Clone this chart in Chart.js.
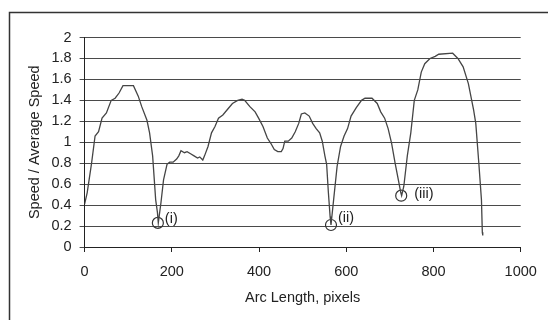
<!DOCTYPE html>
<html>
<head>
<meta charset="utf-8">
<script src="https://cdn.jsdelivr.net/npm/chart.js@4.4.1/dist/chart.umd.min.js"></script>
<style>
  html, body { margin: 0; padding: 0; background: #fff; }
  #wrap { position: relative; width: 548px; height: 320px; }
  canvas { display: block; }
</style>
</head>
<body>
<div id="wrap"><canvas id="c" width="548" height="320"></canvas></div>
<script>
// Arc length (pixels) and speed / average speed
const arcLength = [
  0, 6, 16, 24, 32, 40, 50, 61, 70, 79, 88, 112, 123, 131, 143, 149, 156, 163, 167, 169,
  175, 181, 189, 195, 203, 211, 216, 221, 229, 235, 243, 251, 259, 264, 271, 275, 283, 291, 299, 307,
  317, 327, 339, 351, 361, 367, 379, 391, 399, 409, 419, 427, 435, 443, 451, 455, 459, 467, 475, 483,
  491, 497, 505, 515, 523, 531, 539, 545, 551, 555, 559, 563, 565, 571, 579, 587, 595, 603, 611, 623,
  635, 643, 659, 671, 679, 688, 696, 704, 712, 720, 725, 727, 732, 740, 748, 756, 764, 772, 780, 792,
  804, 812, 844, 856, 868, 880, 892, 897, 904, 910, 912, 913
];
const speedRatio = [
  0.41, 0.52, 0.80, 1.06, 1.10, 1.23, 1.28, 1.40, 1.42, 1.47, 1.54, 1.54, 1.44, 1.34, 1.21, 1.09, 0.87, 0.45, 0.33, 0.23,
  0.42, 0.64, 0.79, 0.81, 0.81, 0.84, 0.87, 0.92, 0.90, 0.91, 0.89, 0.87, 0.85, 0.86, 0.83, 0.87, 0.96, 1.09, 1.15, 1.23,
  1.26, 1.31, 1.37, 1.40, 1.41, 1.40, 1.34, 1.29, 1.23, 1.15, 1.04, 0.99, 0.93, 0.91, 0.91, 0.94, 1.01, 1.01, 1.04, 1.10,
  1.18, 1.27, 1.28, 1.25, 1.18, 1.13, 1.09, 1.01, 0.87, 0.79, 0.52, 0.29, 0.21, 0.45, 0.77, 0.96, 1.06, 1.13, 1.25, 1.33,
  1.40, 1.42, 1.42, 1.37, 1.29, 1.23, 1.13, 0.99, 0.80, 0.63, 0.52, 0.49, 0.58, 0.87, 1.09, 1.40, 1.50, 1.67, 1.75, 1.80,
  1.82, 1.84, 1.85, 1.80, 1.72, 1.56, 1.31, 1.18, 0.80, 0.45, 0.14, 0.11
];
// Marked minima
const markerLabels = ['(i)', '(ii)', '(iii)'];
const markerArc = [168, 565, 726];
const markerSpeed = [0.23, 0.21, 0.49];

const xTicks = [0, 200, 400, 600, 800, 1000];
const yMin = 0, yMax = 2, yStep = 0.2;
const xTitle = 'Arc Length, pixels';
const yTitle = 'Speed / Average Speed';

const FONT = "'Liberation Sans', Arial, sans-serif";
const FS = 14.5;
const TEXT = '#222';

const curve = arcLength.map((x, i) => ({ x: x, y: speedRatio[i] }));
const markers = markerArc.map((x, i) => ({ x: x, y: markerSpeed[i] }));
const markerOffsets = [[7, -4], [7, -7], [13, -2]];

const framePlugin = {
  id: 'frame',
  beforeDraw(chart) {
    const ctx = chart.ctx;
    ctx.save();
    ctx.strokeStyle = '#333';
    ctx.lineWidth = 1.5;
    ctx.beginPath();
    ctx.moveTo(9.5, 320);
    ctx.lineTo(9.5, 12.5);
    ctx.lineTo(548, 12.5);
    ctx.stroke();
    ctx.restore();
  }
};

const labelPlugin = {
  id: 'markerLabels',
  afterDatasetsDraw(chart) {
    const meta = chart.getDatasetMeta(1);
    const ctx = chart.ctx;
    ctx.save();
    ctx.font = FS + 'px ' + FONT;
    ctx.fillStyle = TEXT;
    ctx.textAlign = 'left';
    ctx.textBaseline = 'middle';
    meta.data.forEach((pt, i) => {
      ctx.fillText(markerLabels[i], pt.x + markerOffsets[i][0], pt.y + markerOffsets[i][1]);
    });
    ctx.restore();
  }
};

new Chart(document.getElementById('c'), {
  type: 'scatter',
  data: {
    datasets: [
      {
        data: curve,
        showLine: true,
        borderColor: '#454545',
        borderWidth: 1.3,
        pointRadius: 0,
        tension: 0,
        fill: false
      },
      {
        data: markers,
        showLine: false,
        pointStyle: 'circle',
        pointRadius: 5.5,
        pointBorderWidth: 1.2,
        pointBorderColor: '#333',
        pointBackgroundColor: 'rgba(0,0,0,0)'
      }
    ]
  },
  options: {
    responsive: false,
    animation: false,
    devicePixelRatio: 1,
    layout: { padding: { left: 0, right: 27.3, top: 37.5, bottom: 0 } },
    plugins: { legend: { display: false }, tooltip: { enabled: false } },
    scales: {
      x: {
        type: 'linear',
        min: 0, max: 1000,
        afterBuildTicks(scale) { scale.ticks = xTicks.map(v => ({ value: v })); },
        afterFit(scale) { scale.height = 73; },
        grid: { drawOnChartArea: false, drawTicks: true, tickLength: 5, color: '#222', lineWidth: 1 },
        border: { display: true, color: '#222', width: 1 },
        ticks: { color: TEXT, font: { family: FONT, size: FS }, padding: 11, maxRotation: 0,
                 callback: v => String(v) },
        title: { display: true, text: xTitle, color: TEXT, font: { family: FONT, size: FS }, padding: { top: 0, bottom: 13.3 } }
      },
      y: {
        min: yMin, max: yMax,
        afterFit(scale) { scale.width = 84.6; },
        grid: { drawTicks: true, tickLength: 5, color: '#4a4a4a', lineWidth: 1 },
        border: { display: true, color: '#222', width: 1 },
        ticks: { stepSize: yStep, color: TEXT, font: { family: FONT, size: FS }, padding: 8,
                 callback: v => String(Math.round(v * 10) / 10) },
        title: { display: true, text: yTitle, color: TEXT, font: { family: FONT, size: FS }, padding: { top: 26.3, bottom: 0 } }
      }
    }
  },
  plugins: [framePlugin, labelPlugin]
});
</script>
</body>
</html>
